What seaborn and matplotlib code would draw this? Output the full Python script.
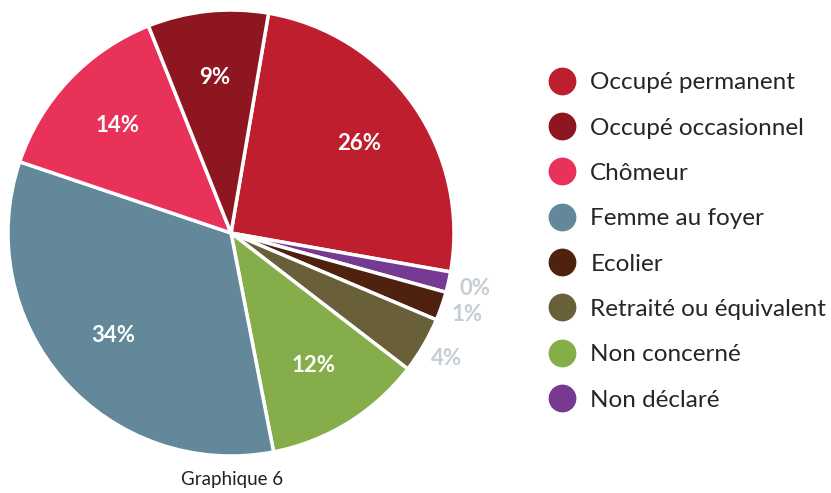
import matplotlib
matplotlib.use("Agg")
import matplotlib.pyplot as plt
from matplotlib.lines import Line2D
import seaborn as sns
import numpy as np

# legend order
categories = ["Occupé permanent", "Occupé occasionnel", "Chômeur", "Femme au foyer",
              "Ecolier", "Retraité ou équivalent", "Non concerné", "Non déclaré"]
colors = ["#BE1E2D", "#8E1620", "#E8325A", "#628899",
          "#4F2210", "#69603A", "#85AE4B", "#773A93"]

# wedge order (clockwise from top-right)
wedge_cats = ["Occupé permanent", "Non déclaré", "Ecolier", "Retraité ou équivalent",
              "Non concerné", "Femme au foyer", "Chômeur", "Occupé occasionnel"]
wedge_vals = [25.3, 1.5, 2.1, 4.1, 11.6, 33.5, 13.9, 8.8]
wedge_labels = ["26%", "0%", "1%", "4%", "12%", "34%", "14%", "9%"]
outside = [False, True, True, True, False, False, False, False]

sns.set_theme(style="white")
plt.rcParams['font.family'] = ['Lato', 'DejaVu Sans']

fig = plt.figure(figsize=(8.31, 4.93), dpi=100)
ax = fig.add_axes([8 / 831, 37 / 493, 446 / 831, 446 / 493])

cmap = dict(zip(categories, colors))
wedges, _ = ax.pie(wedge_vals, colors=[cmap[c] for c in wedge_cats],
                   startangle=80.3, counterclock=False,
                   wedgeprops=dict(edgecolor="white", linewidth=2.5))
ax.set_xlim(-1, 1)
ax.set_ylim(-1, 1)

for w, lab, out in zip(wedges, wedge_labels, outside):
    mid = np.deg2rad((w.theta1 + w.theta2) / 2)
    if out:
        r, col = 1.12, "#C5CDD5"
    else:
        r, col = 0.7, "white"
    ax.text(r * np.cos(mid), r * np.sin(mid), lab, ha="center", va="center",
            color=col, fontsize=16, fontweight="bold")

handles = [Line2D([0], [0], marker="o", linestyle="", markersize=19,
                  markerfacecolor=c, markeredgecolor=c) for c in colors]
fig.legend(handles, categories, loc="upper left", bbox_to_anchor=(0.649, 0.873),
           frameon=False, fontsize=17.5, labelspacing=1.0, handletextpad=0.6,
           handlelength=1.1, borderaxespad=0)

fig.text(232 / 831, 1 - 480 / 493, "Graphique 6", ha="center", va="center",
         fontsize=13.5, color="#222222")

fig.savefig("out.png", dpi=100)
